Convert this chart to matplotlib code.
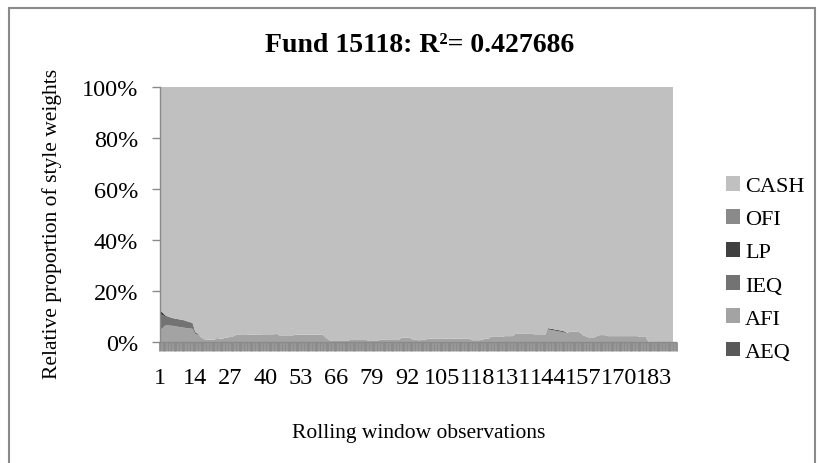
import numpy as np
import matplotlib
matplotlib.use("Agg")
import matplotlib.pyplot as plt
from matplotlib.patches import Patch, Rectangle

plt.rcParams['font.family'] = ['Liberation Serif', 'DejaVu Serif']

# ---- data (percent weights per rolling window) ----
series_names = ["AEQ", "AFI", "IEQ", "LP", "OFI", "CASH"]
legend_order = ["CASH", "OFI", "LP", "IEQ", "AFI", "AEQ"]

AFI = [4.6, 5.5, 6.5, 6.5, 6.4, 6.3, 6.1, 5.9, 5.7, 5.6,
       5.4, 5.3, 5.2, 3.0, 2.8, 2.0, 1.2, 0.9, 0.9, 0.9,
       0.9, 1.6, 1.3, 1.3, 1.7, 1.7, 2.2, 2.2, 2.8, 2.8,
       3.0, 3.0, 3.0, 2.9, 2.9, 2.9, 2.9, 2.9, 3.0, 3.0,
       3.0, 3.0, 3.0, 3.2, 2.6, 2.6, 2.6, 2.6, 2.6, 2.6,
       2.9, 2.9, 2.9, 2.9, 2.9, 2.9, 2.9, 2.9, 2.9, 2.9,
       2.8, 1.8, 1.0, 0.5, 0.4, 0.4, 0.4, 0.4, 0.4, 0.4,
       0.8, 0.8, 0.8, 0.8, 0.8, 0.8, 0.8, 0.4, 0.4, 0.4,
       0.4, 1.0, 1.0, 1.0, 0.8, 0.8, 0.8, 0.8, 0.8, 1.7,
       1.7, 1.7, 1.7, 1.0, 1.0, 0.7, 0.7, 1.0, 1.0, 1.3,
       1.3, 1.3, 1.3, 1.3, 1.3, 1.3, 1.3, 1.3, 1.3, 1.3,
       1.3, 1.3, 1.3, 1.3, 1.3, 0.7, 0.7, 0.7, 0.7, 1.0,
       1.3, 1.3, 2.0, 2.0, 2.0, 2.0, 2.0, 2.3, 2.3, 2.3,
       2.3, 3.2, 3.2, 3.2, 3.2, 3.2, 3.2, 3.2, 3.0, 3.0,
       3.0, 3.0, 3.0, 5.0, 4.8, 4.6, 4.4, 4.2, 4.0, 3.7,
       3.6, 4.0, 4.0, 4.0, 4.0, 3.6, 2.6, 2.2, 1.8, 1.8,
       1.8, 2.3, 2.7, 2.7, 2.7, 2.3, 2.3, 2.3, 2.3, 2.3,
       2.3, 2.3, 2.3, 2.3, 2.3, 2.3, 2.3, 2.0, 2.0, 2.0,
       0.0, 0.0, 0.0, 0.0, 0.0, 0.0, 0.0, 0.0, 0.0, 0.0]

IEQ = [6.3, 5.0, 3.4, 3.5, 3.2, 3.0, 3.0, 3.0, 3.0, 2.9,
       2.7, 2.5, 2.3, 0.9, 0.5] + [0.0] * 175

LP = [1.5, 1.0, 0.5] + [0.0] * 140 + [0.4, 0.4, 0.4, 0.4, 0.4, 0.4, 0.4] + [0.0] * 40

AEQ = [0.0] * 190
OFI = [0.0] * 190

CASH = [87.6, 88.5, 89.6, 90.0, 90.4, 90.7, 90.9, 91.1, 91.3, 91.5,
        91.9, 92.2, 92.5, 96.1, 96.7, 98.0, 98.8, 99.1, 99.1, 99.1,
        99.1, 98.4, 98.7, 98.7, 98.3, 98.3, 97.8, 97.8, 97.2, 97.2,
        97.0, 97.0, 97.0, 97.1, 97.1, 97.1, 97.1, 97.1, 97.0, 97.0,
        97.0, 97.0, 97.0, 96.8, 97.4, 97.4, 97.4, 97.4, 97.4, 97.4,
        97.1, 97.1, 97.1, 97.1, 97.1, 97.1, 97.1, 97.1, 97.1, 97.1,
        97.2, 98.2, 99.0, 99.5, 99.6, 99.6, 99.6, 99.6, 99.6, 99.6,
        99.2, 99.2, 99.2, 99.2, 99.2, 99.2, 99.2, 99.6, 99.6, 99.6,
        99.6, 99.0, 99.0, 99.0, 99.2, 99.2, 99.2, 99.2, 99.2, 98.3,
        98.3, 98.3, 98.3, 99.0, 99.0, 99.3, 99.3, 99.0, 99.0, 98.7,
        98.7, 98.7, 98.7, 98.7, 98.7, 98.7, 98.7, 98.7, 98.7, 98.7,
        98.7, 98.7, 98.7, 98.7, 98.7, 99.3, 99.3, 99.3, 99.3, 99.0,
        98.7, 98.7, 98.0, 98.0, 98.0, 98.0, 98.0, 97.7, 97.7, 97.7,
        97.7, 96.8, 96.8, 96.8, 96.8, 96.8, 96.8, 96.8, 97.0, 97.0,
        97.0, 97.0, 97.0, 94.6, 94.8, 95.0, 95.2, 95.4, 95.6, 95.9,
        96.4, 96.0, 96.0, 96.0, 96.0, 96.4, 97.4, 97.8, 98.2, 98.2,
        98.2, 97.7, 97.3, 97.3, 97.3, 97.7, 97.7, 97.7, 97.7, 97.7,
        97.7, 97.7, 97.7, 97.7, 97.7, 97.7, 97.7, 98.0, 98.0, 98.0,
        100.0, 100.0, 100.0, 100.0, 100.0, 100.0, 100.0, 100.0, 100.0, 100.0]

observations = list(range(1, len(CASH) + 1))
label_step = 13
y_ticks = [0, 20, 40, 60, 80, 100]
y_tick_labels = ["0%", "20%", "40%", "60%", "80%", "100%"]

colors = {"AEQ": "#595959", "AFI": "#a3a3a3", "IEQ": "#737373",
          "LP": "#404040", "OFI": "#8a8a8a", "CASH": "#c0c0c0"}

title = "Fund 15118: R\u00b2= 0.427686"

# ---- figure ----
W, H = 820, 464
fig = plt.figure(figsize=(W / 100, H / 100), dpi=100)
fig.patch.set_facecolor("white")

left, right, top, bottom = 160, 676.5, 88, 343
ax = fig.add_axes([left / W, 1 - bottom / H, (right - left) / W, (bottom - top) / H])

data = {"AEQ": AEQ, "AFI": AFI, "IEQ": IEQ, "LP": LP, "OFI": OFI, "CASH": CASH}
arr = np.array([data[n] for n in series_names], dtype=float)
pct = arr / arr.sum(axis=0) * 100.0
x = np.array(observations)
ax.stackplot(x, pct, colors=[colors[n] for n in series_names], linewidth=0)

ax.set_xlim(1, len(observations) + 1.3)
ax.set_ylim(0, 100)

tick_pos = list(range(1, len(observations) + 2))
ax.set_xticks(tick_pos)
ax.set_xticklabels([str(i) if (i - 1) % label_step == 0 and i <= 183 else "" for i in tick_pos])
ax.tick_params(axis="x", length=6.2, width=2.0, color="#8c8c8c", pad=12, labelsize=17.5)
ax.set_yticks(y_ticks)
ax.set_yticklabels(y_tick_labels)
ax.tick_params(axis="y", length=5.8, width=1.0, color="#8a8a8a", pad=10, labelsize=17.5)

for s in ["top", "right"]:
    ax.spines[s].set_visible(False)
for s in ["left", "bottom"]:
    ax.spines[s].set_color("#8a8a8a")
    ax.spines[s].set_linewidth(1.0)

ax.set_xlabel("Rolling window observations", fontsize=15.5)
ax.xaxis.set_label_coords((418.5 - left) / (right - left), (bottom - 434) / (bottom - top))
ax.xaxis.label.set_va("center")
ax.set_ylabel("Relative proportion of style weights", fontsize=15.5)
ax.yaxis.set_label_coords((52 - left) / (right - left), (bottom - 224) / (bottom - top))
ax.yaxis.label.set_va("center")

fig.text(419.5 / W, 1 - 45 / H, title, ha="center", va="center",
         fontsize=20, fontweight="bold")

handles = [Patch(facecolor=colors[n], edgecolor="none") for n in legend_order]
fig.legend(handles, legend_order, loc="upper left",
           bbox_to_anchor=(726 / W, 1 - 177 / H), frameon=False, fontsize=16,
           handlelength=0.65, handleheight=0.65, handletextpad=0.2,
           labelspacing=0.58, borderpad=0, borderaxespad=0)

fig.patches.append(Rectangle((9 / W, -10 / H), (815 - 9) / W, (455 + 10) / H,
                             transform=fig.transFigure, fill=False,
                             edgecolor="#8a8a8a", linewidth=1.5))

fig.savefig("out.png", dpi=100)
